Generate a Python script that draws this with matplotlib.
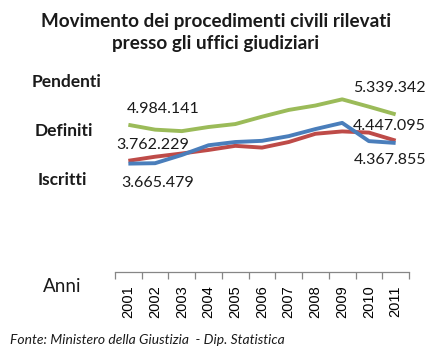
import matplotlib
matplotlib.use("Agg")
import matplotlib.pyplot as plt

years = ["2001", "2002", "2003", "2004", "2005", "2006", "2007", "2008", "2009", "2010", "2011"]
iscritti = [3665479, 3680000, 3960000, 4290000, 4400000, 4440000, 4600000, 4840000, 5050000, 4430000, 4367855]
definiti = [3762229, 3900000, 4010000, 4130000, 4270000, 4210000, 4400000, 4680000, 4760000, 4720000, 4447095]
pendenti = [4984141, 4820000, 4770000, 4910000, 5010000, 5260000, 5490000, 5640000, 5850000, 5600000, 5339342]

title = "Movimento dei procedimenti civili rilevati\npresso gli uffici giudiziari"
source = "Fonte: Ministero della Giustizia  - Dip. Statistica"

def fmt(v):
    return f"{v:,}".replace(",", ".")

plt.rcParams['font.family'] = ['Lato', 'DejaVu Sans']

W, H = 433, 359
fig = plt.figure(figsize=(W / 100, H / 100), dpi=100)
fig.patch.set_facecolor("white")

left, right, bottom_px, top_px = 115, 409, 271.5, 65.5
ax = fig.add_axes([left / W, 1 - bottom_px / H, (right - left) / W, (bottom_px - top_px) / H])
x = list(range(len(years)))

c_blue = "#4A7EBB"
c_red = "#BE4B48"
c_green = "#9BBB59"
lw = 2.8
ax.plot(x, definiti, color=c_red, lw=lw, solid_capstyle="butt", solid_joinstyle="round")
ax.plot(x, iscritti, color=c_blue, lw=lw, solid_capstyle="butt", solid_joinstyle="round")
ax.plot(x, pendenti, color=c_green, lw=lw, solid_capstyle="butt", solid_joinstyle="round")

ax.set_xlim(-0.5, len(years) - 0.5)
ax.set_ylim(0, 7000000)
for s in ["left", "right", "top"]:
    ax.spines[s].set_visible(False)
ax.spines["bottom"].set_color("#868686")
ax.spines["bottom"].set_linewidth(0.9)
ax.set_yticks([])
ax.set_xticks([i - 0.5 for i in range(len(years) + 1)], minor=False)
ax.set_xticklabels([])
ax.tick_params(axis="x", which="major", length=5, color="#868686", width=0.9, direction="out")
ax.set_xticks(x, minor=True)
ax.set_xticklabels(years, minor=True, rotation=90, fontsize=10.5, family="Liberation Sans")
ax.tick_params(axis="x", which="minor", length=0, pad=10)

lab_fs = 11.5
def lab(i, v, dx, dy, va):
    ax.annotate(fmt(v), xy=(i, v), xytext=(dx, dy), textcoords="offset points",
                ha="center", va=va, fontsize=lab_fs, color="#1a1a1a")

n = len(years) - 1
lab(0, pendenti[0], 24.8, 11.5, "center")
lab(0, definiti[0], 17.6, 11.5, "center")
lab(0, iscritti[0], 21.2, -13.7, "center")
lab(n, pendenti[n], -4.3, 19, "center")
lab(n, definiti[n], -4.3, 10.8, "center")
lab(n, iscritti[n], -4.3, -12.2, "center")

def ftext(px, py, s, **kw):
    fig.text(px / W, 1 - py / H, s, **kw)

ftext(216, 32.5, title, ha="center", va="center", fontsize=13.6, fontweight="bold",
      linespacing=1.3, color="#1a1a1a")
ftext(67, 82, "Pendenti", ha="center", va="center", fontsize=12.5, fontweight="bold", color="#1a1a1a")
ftext(64, 131, "Definiti", ha="center", va="center", fontsize=12.5, fontweight="bold", color="#1a1a1a")
ftext(62, 180, "Iscritti", ha="center", va="center", fontsize=12.5, fontweight="bold", color="#1a1a1a")
ftext(62, 286, "Anni", ha="center", va="center", fontsize=13.5, color="#1a1a1a")
ftext(10, 340, source, ha="left", va="center", fontsize=10, style="italic", color="#1a1a1a")

fig.savefig("out.png", dpi=100)
